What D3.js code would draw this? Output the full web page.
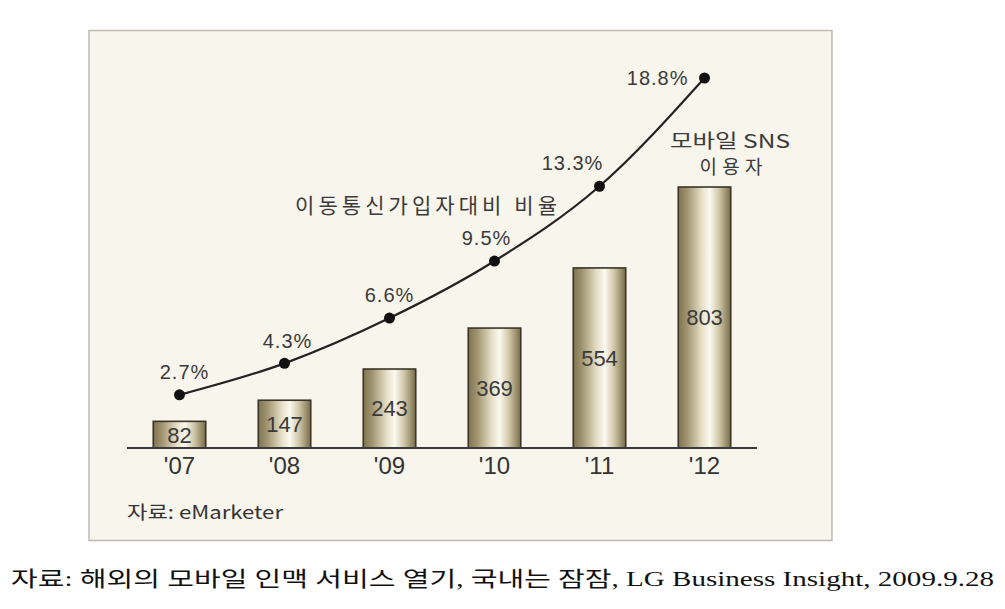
<!DOCTYPE html>
<html><head><meta charset="utf-8">
<script src="https://cdn.jsdelivr.net/npm/d3@7"></script>
<style>
body{margin:0;background:#fff;}
svg{display:block;}
</style></head>
<body>
<svg id="c" width="1005" height="609"></svg>
<script>
const years = ["'07","'08","'09","'10","'11","'12"];
const users = [82,147,243,369,554,803];
const ratio = [2.7,4.3,6.6,9.5,13.3,18.8];
const ratioLabels = ["2.7%","4.3%","6.6%","9.5%","13.3%","18.8%"];

const svg = d3.select("#c");
const defs = svg.append("defs");
const g = defs.append("linearGradient").attr("id","metal").attr("x1","0").attr("x2","1").attr("y1","0").attr("y2","0");
[[0,"#7f7350"],[0.18,"#a39773"],[0.45,"#e6dfc8"],[0.6,"#fbf9f0"],[0.78,"#cfc6a6"],[1,"#786c48"]]
  .forEach(([o,c])=>g.append("stop").attr("offset",o).attr("stop-color",c));

// panel
svg.append("rect").attr("x",89).attr("y",30.5).attr("width",743).attr("height",510)
  .attr("fill","#f8f5ec").attr("stroke","#bdbab0").attr("stroke-width",1.5);

const x = d3.scaleBand().domain(years).range([127,757]).paddingInner(0.5).paddingOuter(0.25);
const yB = d3.scaleLinear().domain([0,803]).range([448,187]);
const yL = d3.scaleLinear().domain([0,18.8]).range([448,78]);

// bars
svg.append("g").selectAll("rect").data(users).join("rect")
  .attr("x",(d,i)=>x(years[i])).attr("width",x.bandwidth())
  .attr("y",d=>yB(d)).attr("height",d=>yB(0)-yB(d))
  .attr("fill","url(#metal)").attr("stroke","#3b3527").attr("stroke-width",1.6);

// baseline axis
const axis = d3.axisBottom(x).tickSize(0).tickPadding(9);
const ax = svg.append("g").attr("transform","translate(0,448)").call(axis);
ax.select(".domain").attr("stroke","#3a3a3a").attr("stroke-width",2).attr("d","M127,0H757");
ax.selectAll("text").attr("font-family","'Liberation Sans',Arial,sans-serif")
  .attr("font-size",24).attr("fill","#333").attr("dy","0.71em");

// bar value labels
svg.append("g").selectAll("text").data(users).join("text")
  .attr("x",(d,i)=>x(years[i])+x.bandwidth()/2)
  .attr("y",d=>(yB(d)+yB(0))/2)
  .attr("dy","0.36em").attr("text-anchor","middle")
  .attr("font-family","'Liberation Sans',Arial,sans-serif")
  .attr("font-size",22).attr("fill","#3a3a3a").text(d=>d);

// line
const cx = (i)=>x(years[i])+x.bandwidth()/2;
const line = d3.line().x((d,i)=>cx(i)).y(d=>yL(d)).curve(d3.curveMonotoneX);
svg.append("path").datum(ratio).attr("d",line).attr("fill","none").attr("stroke","#222").attr("stroke-width",2.2);
svg.append("g").selectAll("circle").data(ratio).join("circle")
  .attr("cx",(d,i)=>cx(i)).attr("cy",d=>yL(d)).attr("r",5.5).attr("fill","#111");

// ratio labels
const dxs = [5,3,0,-8,-27,0];
svg.append("g").selectAll("text").data(ratio).join("text")
  .attr("x",(d,i)=> i===5 ? cx(i)-16 : cx(i)+dxs[i])
  .attr("y",(d,i)=> i===5 ? yL(d) : yL(d)-23)
  .attr("dy","0.36em")
  .attr("text-anchor",(d,i)=> i===5 ? "end" : "middle")
  .attr("font-family","'Liberation Sans',Arial,sans-serif")
  .attr("font-size",20).attr("fill","#3a3a3a").attr("letter-spacing",1)
  .text((d,i)=>ratioLabels[i]);

const ko = "'Noto Sans CJK KR','Liberation Sans',sans-serif";
svg.append("text").attr("x",426).attr("y",205).attr("dy","0.36em").attr("text-anchor","middle")
  .attr("font-family",ko).attr("font-size",21).attr("fill","#3a3a3a")
  .attr("textLength",262).attr("lengthAdjust","spacing").text("이동통신가입자대비 비율");
svg.append("text").attr("x",730).attr("y",141).attr("dy","0.36em").attr("text-anchor","middle")
  .attr("font-family",ko).attr("font-size",19).attr("fill","#3a3a3a")
  .attr("textLength",120).attr("lengthAdjust","spacingAndGlyphs").text("모바일 SNS");
svg.append("text").attr("x",731).attr("y",167).attr("dy","0.36em").attr("text-anchor","middle")
  .attr("font-family",ko).attr("font-size",19).attr("fill","#3a3a3a")
  .attr("textLength",63).attr("lengthAdjust","spacing").text("이용자");

svg.append("text").attr("x",127).attr("y",513).attr("dy","0.36em")
  .attr("font-family",ko).attr("font-size",18).attr("fill","#333")
  .attr("textLength",156).attr("lengthAdjust","spacingAndGlyphs").text("자료: eMarketer");

svg.append("text").attr("x",11).attr("y",578).attr("dy","0.36em")
  .attr("font-family","'Liberation Serif','Noto Sans CJK KR',serif").attr("font-size",21).attr("fill","#111")
  .attr("textLength",983).attr("lengthAdjust","spacingAndGlyphs")
  .text("자료: 해외의 모바일 인맥 서비스 열기, 국내는 잠잠, LG Business Insight, 2009.9.28");
</script>
</body></html>
